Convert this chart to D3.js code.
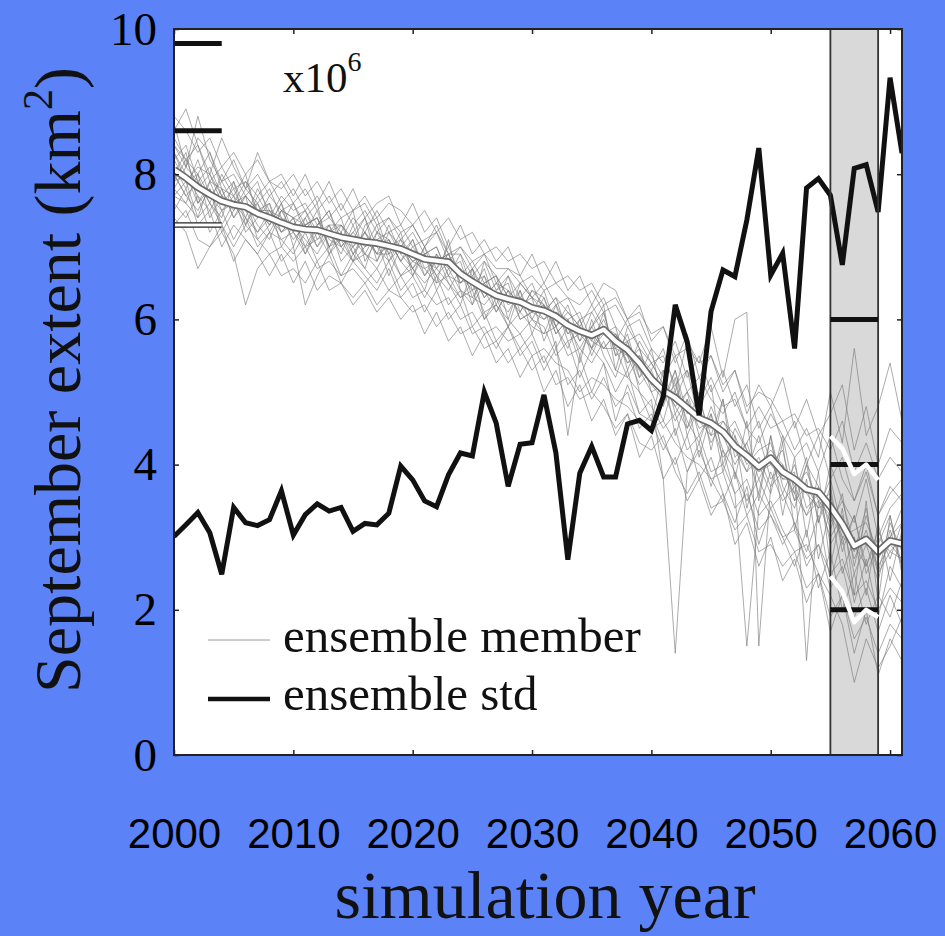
<!DOCTYPE html>
<html>
<head>
<meta charset="utf-8">
<script src="https://cdn.jsdelivr.net/npm/d3@7"></script>
<style>
  html, body { margin: 0; padding: 0; background: #5b82f7; }
  svg { display: block; }
</style>
</head>
<body>
<div class="chart"></div>
<script>
const w = 945;
const h = 936;

// simulation years 2000..2061
const years = d3.range(2000, 2062);

// ensemble std (same axis, plotted as shown)
const ensembleStd = [
  3.01, 3.17, 3.34, 3.06, 2.49, 3.41, 3.20, 3.16, 3.24, 3.64,
  3.03, 3.31, 3.46, 3.36, 3.41, 3.08, 3.19, 3.17, 3.33, 3.98,
  3.79, 3.50, 3.42, 3.86, 4.16, 4.12, 5.00, 4.57, 3.70, 4.28,
  4.30, 4.96, 4.16, 2.69, 3.88, 4.25, 3.83, 3.83, 4.56, 4.61,
  4.47, 4.94, 6.20, 5.69, 4.68, 6.11, 6.68, 6.59, 7.37, 8.36,
  6.61, 6.91, 5.60, 7.81, 7.94, 7.71, 6.75, 8.08, 8.13, 7.48,
  9.33, 8.29
];

// ensemble mean
const ensembleMean = [
  8.06, 7.95, 7.82, 7.72, 7.63, 7.58, 7.55, 7.46, 7.40, 7.33,
  7.27, 7.24, 7.23, 7.18, 7.13, 7.10, 7.07, 7.05, 7.01, 6.97,
  6.90, 6.83, 6.81, 6.79, 6.63, 6.52, 6.42, 6.33, 6.28, 6.24,
  6.16, 6.12, 6.04, 5.92, 5.84, 5.78, 5.86, 5.70, 5.58, 5.40,
  5.18, 5.02, 4.92, 4.78, 4.64, 4.57, 4.45, 4.25, 4.12, 3.97,
  4.09, 3.90, 3.80, 3.66, 3.62, 3.42, 3.18, 2.88, 2.97, 2.80,
  2.95, 2.91
];

// ensemble members
const m01 = [8.5,8.2,8.4,7.9,8.1,7.8,7.9,7.7,7.9,7.6, 7.8,7.5,7.7,7.4,7.6,7.3,7.5,7.2,7.4,7.1, 7.3,7.0,7.2,6.9,6.9,6.6,6.8,6.4,6.6,6.3, 6.5,6.1,6.3,5.8,6.0,5.6,6.1,5.5,5.8,5.2, 5.6,4.8,5.3,4.5,5.0,4.2,4.9,3.8,4.6,3.5, 4.4,3.3,4.1,3.0,3.9,2.6,3.4,2.2,3.5,2.1, 3.3,2.5];
const m02 = [8.0,8.3,7.6,7.8,7.2,7.5,7.7,7.1,7.3,7.6, 7.0,7.4,7.6,6.9,7.2,7.5,6.8,7.1,6.6,7.0, 6.7,6.4,6.9,6.5,6.2,6.7,6.0,6.3,5.9,6.4, 5.8,6.2,5.6,5.9,5.4,6.0,5.5,5.2,5.7,5.0, 4.6,5.3,4.4,4.9,4.1,4.7,3.9,4.4,3.4,4.0, 3.6,4.3,3.1,3.8,2.7,3.4,2.5,3.0,2.2,3.2, 2.4,3.1];
const m03 = [7.7,7.6,8.0,7.4,7.7,7.9,7.3,7.6,7.2,7.5, 7.4,6.9,7.3,7.5,7.0,6.8,7.3,7.4,6.9,7.2, 6.6,7.0,6.5,7.1,6.4,6.2,6.8,6.6,6.0,6.5, 6.3,5.7,6.1,6.0,5.5,5.9,6.2,5.3,5.9,5.6, 5.0,4.6,5.2,4.4,4.8,5.1,4.0,4.5,4.2,3.6, 4.4,3.7,3.4,4.0,3.2,3.7,2.8,3.3,2.5,2.9, 3.3,2.6];
const m04 = [7.5,7.8,7.3,7.5,7.0,7.3,7.1,6.9,7.2,6.8, 7.0,6.2,6.6,6.9,6.5,6.8,6.6,6.4,6.7,6.3, 6.5,6.1,6.4,6.0,6.2,5.8,5.9,5.6,5.9,5.5, 5.7,5.3,5.6,5.1,5.3,4.9,5.2,4.8,5.0,4.5, 4.7,4.3,4.0,4.4,3.8,4.1,3.6,3.2,3.7,2.9, 3.4,3.0,2.6,3.1,2.3,2.8,2.0,2.5,1.8,2.2, 1.9,2.4];
const m05 = [8.3,7.9,8.1,8.0,7.6,7.8,7.4,7.8,7.5,7.3, 7.6,7.2,7.5,7.0,7.3,7.1,7.4,6.8,7.2,7.0, 7.2,6.9,7.0,6.6,6.9,6.4,6.7,6.2,6.6,6.1, 6.4,6.3,5.9,6.2,5.7,6.1,5.8,5.9,5.3,5.7, 5.4,5.1,4.9,5.3,4.6,4.4,4.9,4.1,4.3,4.6, 4.0,4.2,3.5,4.0,3.7,3.1,3.6,2.6,3.3,2.7, 3.0,3.4];
const m06 = [7.9,8.0,7.7,7.5,7.8,7.4,7.6,7.3,7.1,7.5, 7.2,7.0,7.1,7.3,6.8,7.0,6.7,7.2,6.9,6.6, 6.8,6.7,6.5,6.6,6.3,6.5,6.1,6.2,6.0,5.8, 6.0,5.9,5.5,5.7,5.2,5.6,5.4,5.0,5.3,4.7, 4.9,3.8,1.4,3.9,4.3,3.7,4.2,3.9,3.5,3.8, 3.4,3.6,3.2,2.8,3.3,2.4,3.0,2.1,2.7,1.9, 2.6,2.3];
const m07 = [8.2,8.4,7.9,8.1,7.7,7.6,7.9,7.5,7.6,7.2, 7.4,7.5,7.1,7.2,7.4,6.9,7.2,7.0,6.8,7.1, 6.9,6.6,6.9,6.7,6.4,6.3,6.6,6.1,6.4,6.0, 6.1,6.4,5.9,5.6,6.0,5.5,5.9,5.6,5.2,5.5, 5.1,5.3,4.7,5.0,4.4,4.7,4.2,3.6,1.5,3.4, 3.9,3.5,3.7,3.3,3.5,3.0,3.3,2.7,3.1,2.5, 2.8,3.0];
const m08 = [7.8,7.6,7.4,7.9,7.5,7.7,7.2,7.4,7.6,7.0, 7.3,7.1,6.9,7.2,6.9,7.3,6.9,6.8,7.1,6.8, 6.6,6.9,6.6,6.4,6.7,6.2,6.5,6.3,6.1,6.4, 6.0,5.8,6.2,5.9,5.6,5.9,5.6,5.8,5.4,5.5, 5.3,5.6,5.0,5.7,5.4,5.9,5.2,6.0,6.1,1.5, 3.7,4.4,3.6,4.1,3.2,4.0,3.5,3.2,3.8,3.0, 3.4,3.6];
const m09 = [8.0,7.7,7.9,7.6,7.4,7.9,7.5,7.2,7.5,7.4, 7.1,7.3,7.4,7.0,7.2,6.9,7.1,6.9,7.3,6.9, 6.7,7.0,6.7,6.9,6.5,6.6,6.3,6.5,6.2,6.3, 6.2,6.0,6.1,5.8,5.9,5.7,6.0,5.6,5.5,5.3, 5.0,5.1,4.8,4.5,4.8,4.3,4.6,4.4,4.0,4.2, 4.3,3.8,3.9,1.3,3.5,3.6,2.9,3.3,2.6,3.1, 2.7,3.2];
const m10 = [8.7,8.1,8.8,8.2,7.9,8.0,7.7,7.9,7.4,7.7, 7.5,7.6,7.3,7.5,7.1,7.4,7.2,7.5,7.2,7.3, 7.0,7.1,7.2,6.8,7.0,6.7,6.9,6.5,6.7,6.6, 6.3,6.5,6.2,6.3,6.0,6.1,6.3,5.9,5.7,5.8, 5.5,5.2,5.5,5.0,5.2,4.9,4.7,5.0,4.5,4.3, 4.7,4.4,4.1,4.3,3.9,4.4,3.8,3.5,4.0,3.3, 3.7,3.5];
const m11 = [7.6,7.4,7.7,7.2,7.5,7.1,7.4,7.0,7.2,7.1, 6.9,7.2,6.8,7.0,6.6,6.9,6.7,6.5,6.8,6.4, 6.6,6.3,6.6,6.2,6.4,5.9,6.1,5.7,5.9,5.6, 5.8,5.4,5.7,4.4,5.5,5.0,5.4,4.6,5.1,4.7, 4.6,4.2,4.5,3.9,4.2,3.8,3.5,3.9,3.3,3.6, 3.3,2.9,3.2,2.6,2.9,2.3,2.6,1.9,2.3,1.7, 2.2,1.8];
const m12 = [8.4,8.2,7.8,8.0,7.7,7.5,7.8,7.6,7.3,7.5, 7.6,7.3,7.4,7.1,7.0,7.2,7.4,7.0,7.1,6.8, 7.0,6.8,6.7,7.0,6.6,6.4,6.5,6.6,6.3,6.1, 6.4,6.2,5.8,6.0,6.1,5.7,5.6,5.8,5.5,5.1, 5.3,4.9,5.1,4.6,4.3,4.8,4.4,4.0,4.3,3.8, 4.1,3.6,4.0,3.4,3.6,3.2,3.5,2.9,2.6,3.0, 2.8,2.7];
const m13 = [8.1,7.8,8.2,7.7,7.9,7.6,7.3,7.7,7.4,7.2, 7.4,7.0,7.3,7.4,7.2,6.8,7.0,7.3,6.8,7.0, 6.8,6.9,6.4,6.7,6.8,6.3,6.2,6.4,6.5,6.0, 6.1,6.0,6.2,5.7,5.8,5.6,5.8,5.7,5.4,5.6, 5.1,4.9,5.3,4.7,4.9,4.4,4.5,4.2,3.9,4.4, 3.8,4.0,3.5,3.7,3.4,3.8,3.1,2.8,3.4,2.5, 3.2,2.8];
const m14 = [7.8,8.1,7.9,7.6,8.0,7.7,7.5,7.6,7.8,7.4, 7.3,7.5,7.2,7.3,7.0,7.2,7.0,7.1,7.2,6.9, 7.1,6.7,6.8,6.9,6.6,6.8,6.5,6.6,6.3,6.5, 6.3,6.1,6.3,6.1,5.9,6.2,5.9,5.7,6.0,5.6, 5.4,5.5,5.1,5.3,4.9,5.2,4.8,4.9,4.5,4.8, 4.5,4.6,4.2,4.5,4.1,5.0,4.3,5.6,4.4,4.8, 5.4,4.6];
const m15 = [8.0,7.7,7.5,7.8,7.3,7.6,7.4,7.2,7.4,7.1, 7.2,6.9,7.2,6.9,7.1,6.8,6.9,6.7,7.0,6.6, 6.7,6.5,6.7,6.5,6.3,6.4,6.0,6.2,5.9,6.1, 5.9,5.8,5.9,5.5,5.6,5.4,5.7,5.3,5.2,5.0, 4.8,4.5,4.7,4.2,4.4,3.9,4.0,3.6,3.8,3.3, 3.5,3.1,2.8,2.9,2.5,2.2,1.8,1.0,1.6,1.2, 1.5,1.9];
const m16 = [8.3,8.0,7.6,7.9,7.8,7.4,7.7,7.5,7.3,7.6, 7.2,7.4,7.0,7.2,7.3,7.0,7.2,6.9,7.0,7.1, 6.7,6.9,7.0,6.6,6.5,6.7,6.4,6.1,6.4,6.2, 6.0,6.3,5.8,6.0,5.7,5.9,6.1,5.5,5.6,5.4, 5.2,5.0,4.6,4.9,4.5,4.6,4.1,4.3,3.9,4.1, 3.7,3.9,3.6,3.3,3.7,2.9,3.2,2.5,2.9,2.4, 3.1,2.6];
const m17 = [8.8,8.6,8.3,8.5,8.1,8.3,8.0,8.2,7.9,7.8, 8.0,7.7,7.9,7.6,7.8,7.5,7.7,7.4,7.6,7.5, 7.3,7.5,7.2,7.4,7.1,7.2,6.9,7.0,6.8,6.9, 6.7,6.8,6.5,6.6,6.4,6.5,6.2,6.3,6.0,6.1, 5.8,5.9,5.5,5.6,5.4,5.5,5.1,5.3,4.8,5.0, 4.9,4.6,4.7,4.4,4.5,4.2,4.6,3.9,4.3,3.8, 4.1,3.9];
const m18 = [7.3,7.5,7.1,7.0,7.2,6.9,6.2,6.7,6.9,6.6, 6.7,6.5,6.8,6.4,6.5,6.3,6.5,6.2,6.4,6.3, 6.1,6.2,5.9,6.1,5.8,5.9,5.6,5.7,5.4,5.6, 5.3,5.5,5.1,5.2,4.9,5.0,4.8,4.5,4.7,4.3, 4.2,4.4,3.9,3.6,3.9,3.4,3.5,3.1,3.3,2.8, 2.9,2.6,2.8,2.3,2.5,1.9,2.2,1.6,1.9,1.4, 1.8,1.6];
const m19 = [8.6,8.9,8.4,8.0,8.5,8.1,7.8,8.3,7.9,8.0, 7.7,8.0,7.6,7.9,7.5,7.8,7.4,7.6,7.7,7.3, 7.6,7.2,7.4,7.0,7.3,6.9,7.1,6.8,7.0,6.6, 6.9,6.5,6.8,6.4,6.6,6.2,6.5,6.4,6.0,6.2, 5.7,5.9,5.4,5.8,5.2,5.5,5.0,5.3,4.7,5.1, 4.8,5.2,4.5,4.9,4.4,4.7,5.1,4.2,4.8,4.0, 4.5,4.3];
const m20 = [7.4,7.2,6.7,7.0,7.3,6.8,7.1,6.9,6.6,6.9, 6.5,6.8,6.4,6.6,6.5,6.2,6.4,6.1,6.3,6.0, 6.2,5.8,6.1,5.7,5.9,5.5,5.8,5.4,5.6,5.2, 5.5,5.0,5.3,4.8,5.1,4.6,4.9,4.4,4.7,4.1, 4.4,3.8,4.1,3.5,3.8,3.3,3.6,2.9,3.2,2.6, 3.0,2.4,2.7,2.1,2.5,1.7,2.2,1.4,2.0,1.1, 1.6,1.3];
const m21 = [8.4,8.1,8.5,8.3,7.9,8.2,7.8,8.0,7.7,7.9, 7.6,7.8,7.5,7.7,7.4,7.5,7.6,7.3,7.4,7.2, 7.3,7.0,7.3,6.9,7.0,6.8,6.9,6.7,6.7,6.5, 6.6,6.4,6.5,6.3,6.2,6.4,6.1,6.2,5.9,6.0, 5.6,5.4,5.7,5.2,5.5,5.0,5.3,4.8,5.1,4.5, 4.8,4.3,4.6,4.0,4.4,3.8,4.1,3.5,3.9,3.3, 3.6,3.8];
const m22 = [7.7,7.9,7.4,7.6,7.3,7.0,7.3,7.1,6.9,7.0, 6.8,7.0,6.7,6.8,6.6,6.7,6.5,6.7,6.4,6.6, 6.3,6.4,6.2,6.3,6.0,6.1,5.8,5.9,5.7,5.8, 5.5,5.6,5.4,5.3,5.0,5.2,5.1,4.9,4.8,4.6, 4.5,4.6,4.3,4.1,4.0,3.8,3.9,3.4,3.6,3.1, 3.3,3.0,3.1,2.7,2.9,2.5,2.7,2.2,2.4,2.0, 2.3,2.1];
const m23 = [8.2,7.9,8.0,8.3,7.8,7.7,8.0,7.4,7.7,7.5, 7.4,7.3,7.0,7.3,7.3,7.1,6.9,7.2,7.1,6.8, 7.1,6.6,6.8,6.9,6.5,6.7,6.3,6.5,6.4,6.2, 6.3,6.2,5.9,6.1,5.9,5.6,5.9,5.8,5.6,5.2, 5.4,5.1,4.8,5.0,4.7,4.6,4.4,4.6,4.2,4.0, 4.2,4.0,3.7,3.9,3.5,3.3,3.0,3.1,3.2,2.8, 3.0,3.2];
const m24 = [7.9,8.2,8.0,7.7,7.5,7.6,7.7,7.5,7.5,7.2, 7.3,7.3,7.4,7.0,7.1,7.0,7.2,6.9,6.9,7.0, 6.8,6.9,6.6,6.8,6.6,6.5,6.6,6.3,6.3,6.3, 6.1,6.2,6.0,5.9,5.8,5.8,5.6,5.6,5.7,5.3, 5.2,5.0,5.0,4.8,4.6,4.5,4.6,4.3,4.1,3.9, 4.0,3.8,3.8,3.6,3.4,3.5,3.0,2.9,3.0,2.6, 2.9,2.7];
const members = [m01, m02, m03, m04, m05, m06, m07, m08, m09, m10, m11, m12,
    m13, m14, m15, m16, m17, m18, m19, m20, m21, m22, m23, m24];

// reference bars at start (2000-2004)
const startYears = [2000, 2004];
const startBars = [9.8, 8.6];
const startMeanBar = 7.3;

// evaluation window 2055-2059
const windowYears = [2055, 2059];
const windowBars = [6, 4, 2];
const windowYearsList = [2055, 2056, 2057, 2058, 2059];
const windowUpper = [4.39, 4.22, 3.87, 4.00, 3.79];
const windowLower = [2.46, 2.25, 1.83, 2.00, 1.90];

const xTicks = [2000, 2010, 2020, 2030, 2040, 2050, 2060];
const yTicks = [0, 2, 4, 6, 8, 10];

const serif = "'Liberation Serif', 'Times New Roman', serif";
const sans = "'Liberation Sans', Arial, sans-serif";

const svg = d3
    .select(".chart")
    .append("svg")
    .attr("width", w)
    .attr("height", h);

const x = d3.scaleLinear().domain([2000, 2061]).range([174, 902]);
const y = d3.scaleLinear().domain([0, 10]).range([755, 29]);

svg.append("defs")
    .append("clipPath")
    .attr("id", "plot-clip")
    .append("rect")
    .attr("x", x(2000))
    .attr("y", y(10))
    .attr("width", x(2061) - x(2000))
    .attr("height", y(0) - y(10));

// plot background
svg.append("rect")
    .attr("x", x(2000))
    .attr("y", y(10))
    .attr("width", x(2061) - x(2000))
    .attr("height", y(0) - y(10))
    .attr("fill", "#fff");

// grey window
svg.append("rect")
    .attr("x", x(windowYears[0]))
    .attr("y", y(10))
    .attr("width", x(windowYears[1]) - x(windowYears[0]))
    .attr("height", y(0) - y(10))
    .attr("fill", "#d9d9d9");

const plot = svg.append("g").attr("clip-path", "url(#plot-clip)");

const line = d3
    .line()
    .x((d, i) => x(years[i]))
    .y((d) => y(d));

// members
plot.append("g")
    .selectAll("path")
    .data(members)
    .join("path")
    .attr("d", line)
    .attr("fill", "none")
    .attr("stroke", "#7a7a7a")
    .attr("stroke-width", 0.8)
    .attr("stroke-opacity", 0.8)
    .attr("stroke-linejoin", "round");

// window lines
svg.append("g")
    .selectAll("line.wv")
    .data(windowYears)
    .join("line")
    .attr("x1", (d) => x(d))
    .attr("x2", (d) => x(d))
    .attr("y1", y(0))
    .attr("y2", y(10))
    .attr("stroke", "#333")
    .attr("stroke-width", 1.8);

// window bars
svg.append("g")
    .selectAll("line")
    .data(windowBars)
    .join("line")
    .attr("x1", x(windowYears[0]))
    .attr("x2", x(windowYears[1]))
    .attr("y1", (d) => y(d))
    .attr("y2", (d) => y(d))
    .attr("stroke", "#111")
    .attr("stroke-width", 5);

const wline = d3
    .line()
    .x((d, i) => x(windowYearsList[i]))
    .y((d) => y(d));

svg.append("g")
    .selectAll("path")
    .data([windowUpper, windowLower])
    .join("path")
    .attr("d", wline)
    .attr("fill", "none")
    .attr("stroke", "#fff")
    .attr("stroke-width", 4.5)
    .attr("stroke-linejoin", "round");

// ensemble mean: grey outline, white core
plot.append("path")
    .datum(ensembleMean)
    .attr("d", line)
    .attr("fill", "none")
    .attr("stroke", "#6a6a6a")
    .attr("stroke-width", 7.5)
    .attr("stroke-linejoin", "round");
plot.append("path")
    .datum(ensembleMean)
    .attr("d", line)
    .attr("fill", "none")
    .attr("stroke", "#fff")
    .attr("stroke-width", 4.2)
    .attr("stroke-linejoin", "round");

// start bars
svg.append("g")
    .selectAll("line")
    .data(startBars)
    .join("line")
    .attr("x1", x(startYears[0]))
    .attr("x2", x(startYears[1]))
    .attr("y1", (d) => y(d))
    .attr("y2", (d) => y(d))
    .attr("stroke", "#111")
    .attr("stroke-width", 5);
svg.append("line")
    .attr("x1", x(startYears[0]))
    .attr("x2", x(startYears[1]))
    .attr("y1", y(startMeanBar))
    .attr("y2", y(startMeanBar))
    .attr("stroke", "#222")
    .attr("stroke-width", 5.5);
svg.append("line")
    .attr("x1", x(startYears[0]))
    .attr("x2", x(startYears[1]))
    .attr("y1", y(startMeanBar))
    .attr("y2", y(startMeanBar))
    .attr("stroke", "#fff")
    .attr("stroke-width", 3);

// ensemble std
plot.append("path")
    .datum(ensembleStd)
    .attr("d", line)
    .attr("fill", "none")
    .attr("stroke", "#111")
    .attr("stroke-width", 5)
    .attr("stroke-linejoin", "miter");

// axes
const xAxis = d3.axisBottom(x).tickValues(xTicks).tickFormat(d3.format("d"))
    .tickSizeInner(-5).tickSizeOuter(0).tickPadding(63);
const gx = svg.append("g")
    .attr("transform", `translate(0,${y(0)})`)
    .call(xAxis);
gx.selectAll("text")
    .attr("font-family", sans)
    .attr("font-size", 42)
    .attr("fill", "#000");

svg.append("g")
    .attr("transform", `translate(0,${y(10)})`)
    .call(d3.axisTop(x).tickValues(xTicks).tickFormat("").tickSizeInner(-5).tickSizeOuter(0));

const yAxis = d3.axisLeft(y).tickValues(yTicks).tickFormat(d3.format("d"))
    .tickSizeInner(-5).tickSizeOuter(0).tickPadding(17);
const gy = svg.append("g")
    .attr("transform", `translate(${x(2000)},0)`)
    .call(yAxis);
gy.selectAll("text")
    .attr("font-family", serif)
    .attr("font-size", 47)
    .attr("fill", "#000");

svg.append("g")
    .attr("transform", `translate(${x(2061)},0)`)
    .call(d3.axisRight(y).tickValues(yTicks).tickFormat("").tickSizeInner(-5).tickSizeOuter(0));

svg.selectAll(".domain").remove();
svg.selectAll(".tick line").attr("stroke", "#222").attr("stroke-width", 1.5);

// frame
svg.append("rect")
    .attr("x", x(2000))
    .attr("y", y(10))
    .attr("width", x(2061) - x(2000))
    .attr("height", y(0) - y(10))
    .attr("fill", "none")
    .attr("stroke", "#222")
    .attr("stroke-width", 2);

// x10^6
const mult = svg.append("text")
    .attr("x", 283)
    .attr("y", 92)
    .attr("font-family", serif)
    .attr("font-size", 43)
    .attr("fill", "#111");
mult.append("tspan").text("x10");
mult.append("tspan").attr("dy", -21).attr("font-size", 28).text("6");

// legend
svg.append("line")
    .attr("x1", 208).attr("x2", 270)
    .attr("y1", 640).attr("y2", 640)
    .attr("stroke", "#9a9a9a").attr("stroke-width", 1);
svg.append("line")
    .attr("x1", 208).attr("x2", 270)
    .attr("y1", 699).attr("y2", 699)
    .attr("stroke", "#111").attr("stroke-width", 4.5);
svg.append("text")
    .attr("x", 283).attr("y", 652)
    .attr("font-family", serif).attr("font-size", 49).attr("fill", "#111")
    .text("ensemble member");
svg.append("text")
    .attr("x", 283).attr("y", 710)
    .attr("font-family", serif).attr("font-size", 49).attr("fill", "#111")
    .text("ensemble std");

// axis titles
svg.append("text")
    .attr("x", 545).attr("y", 918)
    .attr("text-anchor", "middle")
    .attr("font-family", serif).attr("font-size", 68).attr("fill", "#111")
    .text("simulation year");

const yl = svg.append("text")
    .attr("transform", "translate(80,380) rotate(-90)")
    .attr("text-anchor", "middle")
    .attr("font-family", serif).attr("font-size", 66).attr("fill", "#111");
yl.append("tspan").text("September extent (km");
yl.append("tspan").attr("dy", -28).attr("font-size", 42).text("2");
yl.append("tspan").attr("dy", 28).text(")");
</script>
</body>
</html>
